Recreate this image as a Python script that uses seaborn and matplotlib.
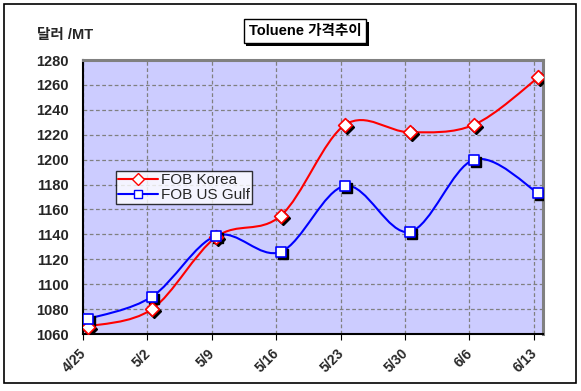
import matplotlib
matplotlib.use("Agg")
import matplotlib.pyplot as plt
import matplotlib.dates as mdates
import matplotlib.patheffects as pe
import numpy as np
import pandas as pd
import seaborn as sns
from matplotlib.lines import Line2D
from matplotlib.patches import PathPatch, Rectangle
from matplotlib.path import Path
from matplotlib.transforms import ScaledTranslation, offset_copy

# values
dates = ["2008-04-25", "2008-05-02", "2008-05-09", "2008-05-16",
         "2008-05-23", "2008-05-30", "2008-06-06", "2008-06-13"]
tick_labels = ["4/25", "5/2", "5/9", "5/16", "5/23", "5/30", "6/6", "6/13"]
fob_korea = [1066, 1080, 1138, 1155, 1228, 1222, 1228, 1266]
fob_us_gulf = [1072, 1090, 1139, 1126, 1179, 1142, 1200, 1173]

sns.set_style("white")
plt.rcParams["font.family"] = ["Liberation Sans", "Noto Sans CJK KR", "DejaVu Sans"]
plt.rcParams["font.weight"] = "bold"

day = pd.to_datetime(dates)
# excel date axis puts each point in the middle of its day
df = pd.DataFrame({
    "date": day + pd.Timedelta(hours=12),
    "FOB Korea": fob_korea,
    "FOB US Gulf": fob_us_gulf,
})

fig = plt.figure(figsize=(5.81, 3.91), dpi=100)
ax = fig.add_axes([83 / 581, 1 - 334 / 391, 460 / 581, 274 / 391])
ax.set_facecolor("#ccccff")


def smooth_path(x, y):
    # catmull-rom style bezier, like excel's "smoothed line"
    pts = np.column_stack([x, y])
    n = len(pts)
    verts = [pts[0]]
    codes = [Path.MOVETO]
    for i in range(n - 1):
        p0 = pts[max(i - 1, 0)]
        p1 = pts[i]
        p2 = pts[i + 1]
        p3 = pts[min(i + 2, n - 1)]
        verts += [p1 + (p2 - p0) / 6, p2 - (p3 - p1) / 6, p2]
        codes += [Path.CURVE4] * 3
    return Path(verts, codes)


xnum = mdates.date2num(df["date"])
series = [
    ("FOB Korea", "#ff0000", "D", 7),
    ("FOB US Gulf", "#0000ff", "s", 7),
]
handles = []
for name, col, mk, ms in series:
    ax.add_patch(PathPatch(smooth_path(xnum, df[name].to_numpy(float)),
                           fc="none", ec=col, lw=1.5, zorder=3))
    shadow = offset_copy(ax.transData, fig=fig, x=2, y=-2, units="dots")
    ax.plot(df["date"], df[name], ls="none", marker=mk, ms=ms,
            color="black", transform=shadow, zorder=4)
    sns.scatterplot(data=df, x="date", y=name, marker=mk, s=ms ** 2,
                    color="white", edgecolor=col, linewidth=1.2,
                    ax=ax, zorder=5, legend=False)
    handles.append(Line2D([], [], color=col, lw=1.5, marker=mk, ms=ms - 1,
                          mfc="white", mec=col, label=name))

ax.set_xlim(day[0], day[-1] + pd.Timedelta(days=1))
ax.set_ylim(1060, 1280)
ax.set_yticks(np.arange(1060, 1281, 20))
ax.set_xticks(day)
ax.set_xticklabels(tick_labels, rotation=45, ha="right", rotation_mode="anchor")
ax.set_xlabel("")
ax.set_ylabel("")
ax.tick_params(axis="x", labelsize=10, pad=5, length=4, direction="out",
               bottom=True, color="black")
ax.tick_params(axis="y", labelsize=10.5, pad=10, length=0)
# nudge the slanted labels a little left, as excel draws them
nudge = ScaledTranslation(-4 / 100, 0, fig.dpi_scale_trans)
for lab in ax.get_xticklabels():
    lab.set_transform(lab.get_transform() + nudge)

ax.grid(True, color="#808080", ls=(0, (3, 2)), lw=0.9)
ax.set_axisbelow(True)
for s in ["left", "bottom"]:
    ax.spines[s].set_color("black")
    ax.spines[s].set_linewidth(1.5)
for s in ["top", "right"]:
    ax.spines[s].set_color("#808080")
    ax.spines[s].set_linewidth(2.2)

leg = ax.legend(handles=handles, loc="upper left", bbox_to_anchor=(0.072, 0.595),
                frameon=True, fancybox=False, fontsize=11, handlelength=2.6,
                borderpad=0.15, labelspacing=0.05, handletextpad=0.2,
                borderaxespad=0)
leg.get_frame().set_edgecolor("black")
leg.get_frame().set_linewidth(1.0)
for t in leg.get_texts():
    t.set_fontweight("normal")

# title box with a drop shadow
title = fig.text(305 / 581, 1 - 31 / 391, "Toluene 가격추이", fontsize=10.5,
                 ha="center", va="center", color="black",
                 bbox=dict(boxstyle="square,pad=0.35", fc="white", ec="black", lw=1))
title.get_bbox_patch().set_path_effects([
    pe.SimplePatchShadow(offset=(2, -2), shadow_rgbFace="black", alpha=1),
    pe.Normal(),
])

fig.text(37 / 581, 1 - 35 / 391, "달러 /MT", fontsize=10.5, ha="left", va="center")

fig.patches.append(Rectangle((4 / 581, 1 - 383 / 391), 572 / 581, 379 / 391,
                             transform=fig.transFigure, fill=False,
                             ec="black", lw=1.2))

fig.savefig("out.png", dpi=100)
